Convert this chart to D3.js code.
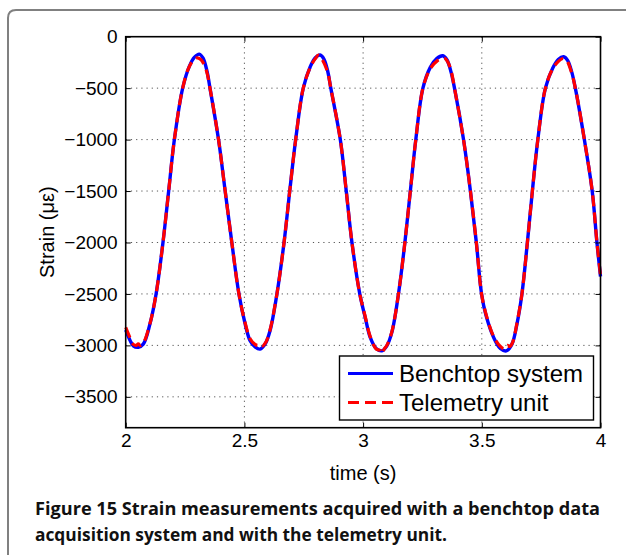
<!DOCTYPE html>
<html>
<head>
<meta charset="utf-8">
<script src="https://cdn.jsdelivr.net/npm/d3@7"></script>
<style>
  body { margin: 0; background: #fff; }
  svg { display: block; }
  .tick text { font-family: "Liberation Sans", Arial, sans-serif; font-size: 19px; fill: #000; }
</style>
</head>
<body>
<div id="chart"></div>
<script>
// data: time (s) and strain (micro-strain)
var benchTime = [2.000, 2.018, 2.032, 2.053, 2.074, 2.102, 2.128, 2.157, 2.181, 2.205, 2.240, 2.268, 2.290, 2.310, 2.326, 2.342, 2.355, 2.391, 2.419, 2.447, 2.477,
  2.503, 2.524, 2.545, 2.566, 2.587, 2.608, 2.637, 2.667, 2.691, 2.716, 2.748, 2.777, 2.798, 2.819, 2.835, 2.851, 2.864, 2.904, 2.929, 2.953, 2.986,
  3.009, 3.030, 3.055, 3.079, 3.100, 3.121, 3.149, 3.176, 3.199, 3.222, 3.252, 3.283, 3.310, 3.336, 3.353, 3.370, 3.385, 3.423, 3.452, 3.477, 3.499,
  3.518, 3.550, 3.578, 3.603, 3.627, 3.648, 3.669, 3.692, 3.713, 3.736, 3.768, 3.799, 3.822, 3.845, 3.862, 3.879, 3.894, 3.932, 3.965, 3.985, 4.000];
var benchStrain = [-2850, -2950, -3004, -3018, -2988, -2793, -2500, -2000, -1500, -1000, -500, -288, -199, -169, -209, -331, -500, -1000, -1500, -2000, -2500,
  -2790, -2955, -3015, -3036, -2988, -2858, -2500, -2000, -1500, -1000, -500, -294, -207, -178, -217, -336, -500, -1000, -1500, -2000, -2500,
  -2730, -2923, -3030, -3053, -3004, -2874, -2500, -2000, -1500, -1000, -500, -298, -213, -185, -224, -339, -500, -1000, -1500, -2000, -2500,
  -2710, -2923, -3030, -3053, -2988, -2793, -2500, -2000, -1500, -1000, -500, -305, -222, -195, -232, -344, -500, -1000, -1500, -2000, -2330];

var teleTime = [2.000, 2.018, 2.032, 2.045, 2.053, 2.062, 2.074, 2.102, 2.128, 2.157, 2.181, 2.205, 2.240, 2.266, 2.288, 2.302, 2.318, 2.340, 2.355, 2.391, 2.419, 2.447, 2.477,
  2.503, 2.524, 2.545, 2.557, 2.565, 2.575, 2.590, 2.608, 2.637, 2.667, 2.691, 2.716, 2.748, 2.777, 2.798, 2.812, 2.826, 2.850, 2.864, 2.904, 2.929, 2.953, 2.986,
  3.009, 3.030, 3.055, 3.072, 3.079, 3.088, 3.100, 3.121, 3.149, 3.176, 3.199, 3.222, 3.252, 3.283, 3.312, 3.330, 3.345, 3.358, 3.372, 3.385, 3.423, 3.452, 3.477, 3.499,
  3.518, 3.550, 3.578, 3.596, 3.608, 3.618, 3.630, 3.648, 3.669, 3.692, 3.713, 3.736, 3.768, 3.799, 3.825, 3.842, 3.856, 3.877, 3.894, 3.932, 3.965, 3.985, 4.000];
var teleStrain = [-2825, -2925, -2990, -3000, -2985, -3002, -2980, -2790, -2500, -2000, -1500, -1000, -500, -300, -220, -205, -225, -330, -500, -1000, -1500, -2000, -2500,
  -2780, -2935, -2990, -3000, -2985, -3005, -2970, -2850, -2500, -2000, -1500, -1000, -500, -300, -215, -180, -215, -340, -500, -1000, -1500, -2000, -2500,
  -2720, -2915, -3035, -3050, -3082, -3040, -3000, -2870, -2500, -2000, -1500, -1000, -500, -310, -235, -215, -212, -250, -345, -500, -1000, -1500, -2000, -2500,
  -2700, -2915, -3010, -3035, -3000, -3010, -2970, -2785, -2500, -2000, -1500, -1000, -500, -310, -235, -212, -225, -340, -500, -1000, -1500, -2000, -2320];

var xTicks = [2, 2.5, 3, 3.5, 4];
var yTicks = [0, -500, -1000, -1500, -2000, -2500, -3000, -3500];
var seriesNames = ["Benchtop system", "Telemetry unit"];

var svgWidth = 626, svgHeight = 555;
var plot = { left: 125.7, right: 600.5, top: 36.7, bottom: 427.7 };

var svg = d3.select("#chart").append("svg")
  .attr("width", svgWidth)
  .attr("height", svgHeight);

// outer figure frame (rounded, open on right and bottom)
svg.append("path")
  .attr("d", "M8,560 L8,18 Q8,10 16,10 L630,10")
  .attr("fill", "none")
  .attr("stroke", "#808080")
  .attr("stroke-width", 2);

var x = d3.scaleLinear().domain([2, 4]).range([plot.left, plot.right]);
var y = d3.scaleLinear().domain([-3800, 0]).range([plot.bottom, plot.top]);

// grid lines
var grid = svg.append("g");
grid.selectAll("line.gx")
  .data(xTicks.filter(d => d > 2 && d < 4))
  .enter().append("line")
  .attr("x1", d => x(d)).attr("x2", d => x(d))
  .attr("y1", plot.top).attr("y2", plot.bottom)
  .attr("stroke", "#555").attr("stroke-width", 1)
  .attr("stroke-dasharray", "1.2,4");
grid.selectAll("line.gy")
  .data(yTicks.filter(d => d < 0))
  .enter().append("line")
  .attr("x1", plot.left).attr("x2", plot.right)
  .attr("y1", d => y(d)).attr("y2", d => y(d))
  .attr("stroke", "#555").attr("stroke-width", 1)
  .attr("stroke-dasharray", "1.2,4");

// curves
var bench = benchTime.map((t, i) => [t, benchStrain[i]]);
var tele = teleTime.map((t, i) => [t, teleStrain[i]]);

var line = d3.line()
  .x(d => x(d[0]))
  .y(d => y(d[1]))
  .curve(d3.curveCatmullRom.alpha(0.5));

svg.append("path")
  .datum(bench)
  .attr("d", line)
  .attr("fill", "none")
  .attr("stroke", "#0000ff")
  .attr("stroke-width", 3.4)
  .attr("stroke-linejoin", "round");

svg.append("path")
  .datum(tele)
  .attr("d", line)
  .attr("fill", "none")
  .attr("stroke", "#ff0000")
  .attr("stroke-width", 3.2)
  .attr("stroke-dasharray", "11,6");

// axes with inward ticks
var fmt = d3.format("d");
svg.append("g")
  .attr("transform", `translate(${plot.left},0)`)
  .call(d3.axisLeft(y).tickValues(yTicks).tickSize(-5).tickPadding(8).tickFormat(fmt))
  .call(g => g.select(".domain").remove());
svg.append("g")
  .attr("transform", `translate(${plot.right},0)`)
  .call(d3.axisRight(y).tickValues(yTicks).tickSize(-5).tickFormat(""))
  .call(g => g.select(".domain").remove());
svg.append("g")
  .attr("transform", `translate(0,${plot.bottom})`)
  .call(d3.axisBottom(x).tickValues(xTicks).tickSize(-5).tickPadding(6).tickFormat(d3.format("")))
  .call(g => g.select(".domain").remove());
svg.append("g")
  .attr("transform", `translate(0,${plot.top})`)
  .call(d3.axisTop(x).tickValues(xTicks).tickSize(-5).tickFormat(""))
  .call(g => g.select(".domain").remove());

svg.selectAll(".tick line").attr("stroke", "#000");

// plot box
svg.append("rect")
  .attr("x", plot.left).attr("y", plot.top)
  .attr("width", plot.right - plot.left)
  .attr("height", plot.bottom - plot.top)
  .attr("fill", "none")
  .attr("stroke", "#000")
  .attr("stroke-width", 1.6);

// axis labels
svg.append("text")
  .attr("x", x(3))
  .attr("y", 480)
  .attr("text-anchor", "middle")
  .style("font-family", "Liberation Sans, Arial, sans-serif")
  .style("font-size", "20px")
  .text("time (s)");

svg.append("text")
  .attr("transform", `translate(54, ${y(-1900)}) rotate(-90)`)
  .attr("text-anchor", "middle")
  .style("font-family", "Liberation Sans, Arial, sans-serif")
  .style("font-size", "20px")
  .text("Strain (με)");

// legend
var legend = svg.append("g");
legend.append("rect")
  .attr("x", 339.5).attr("y", 356)
  .attr("width", 254).attr("height", 64)
  .attr("fill", "#fff")
  .attr("stroke", "#000")
  .attr("stroke-width", 1.4);

var legendRows = legend.selectAll("g.row")
  .data(seriesNames)
  .enter().append("g")
  .attr("transform", (d, i) => `translate(0, ${373.5 + i * 29})`);

legendRows.append("line")
  .attr("x1", 348).attr("x2", 393)
  .attr("y1", 0).attr("y2", 0)
  .attr("stroke", (d, i) => i === 0 ? "#0000ff" : "#ff0000")
  .attr("stroke-width", 3.2)
  .attr("stroke-dasharray", (d, i) => i === 0 ? null : "11,6");

legendRows.append("text")
  .attr("x", 399)
  .attr("y", 8.5)
  .style("font-family", "Liberation Sans, Arial, sans-serif")
  .style("font-size", "24px")
  .text(d => d);

// caption
var caption = svg.append("text")
  .style("font-family", "Open Sans, sans-serif")
  .style("font-size", "18.5px")
  .style("font-weight", "bold")
  .attr("fill", "#111");
caption.append("tspan")
  .attr("x", 35).attr("y", 515)
  .attr("textLength", 565)
  .attr("lengthAdjust", "spacingAndGlyphs")
  .text("Figure 15 Strain measurements acquired with a benchtop data");
caption.append("tspan")
  .attr("x", 35).attr("y", 541)
  .attr("textLength", 412)
  .attr("lengthAdjust", "spacingAndGlyphs")
  .text("acquisition system and with the telemetry unit.");
</script>
</body>
</html>
